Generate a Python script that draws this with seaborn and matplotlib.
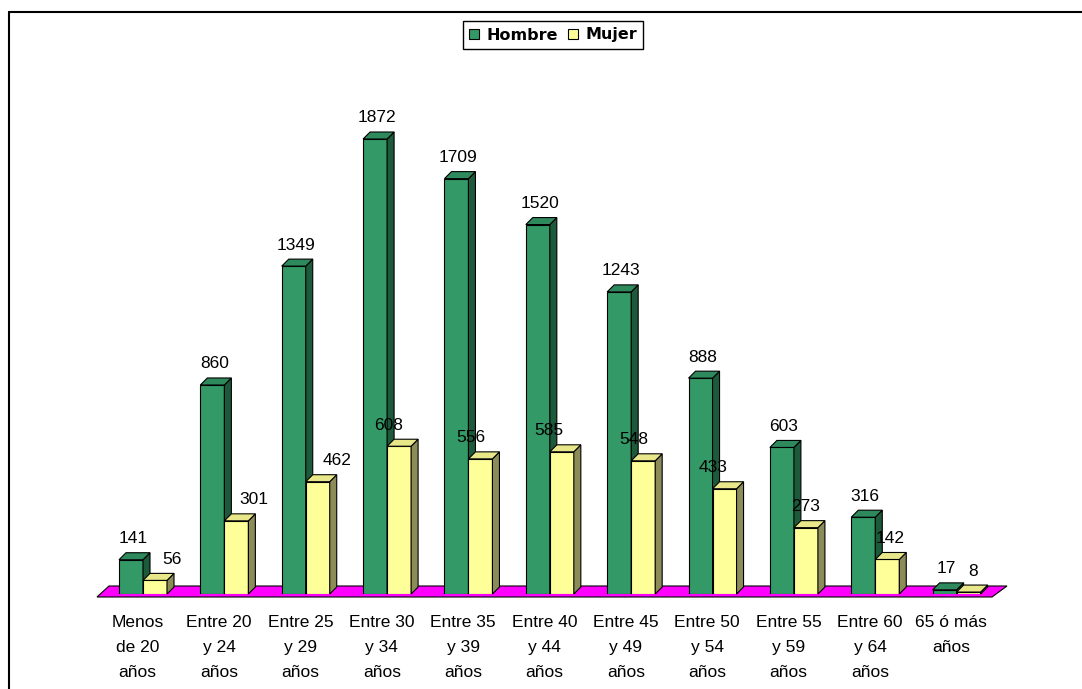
import matplotlib
matplotlib.use("Agg")
import matplotlib.pyplot as plt
import matplotlib.transforms as mtransforms
from matplotlib.patches import Polygon, Patch
from matplotlib.lines import Line2D
import seaborn as sns
import pandas as pd

# ---------------- data ----------------
categories = ["Menos\nde 20\naños", "Entre 20\ny 24\naños", "Entre 25\ny 29\naños",
              "Entre 30\ny 34\naños", "Entre 35\ny 39\naños", "Entre 40\ny 44\naños",
              "Entre 45\ny 49\naños", "Entre 50\ny 54\naños", "Entre 55\ny 59\naños",
              "Entre 60\ny 64\naños", "65 ó más\naños"]
hombre = [141, 860, 1349, 1872, 1709, 1520, 1243, 888, 603, 316, 17]
mujer = [56, 301, 462, 608, 556, 585, 548, 433, 273, 142, 8]
series = ["Hombre", "Mujer"]

# label placement tweaks (pixels) for the value labels
dx_hombre = [2] * 11
dx_mujer = [17, 17, 19, -11, -10, -13, -9, -11, 0, 3, 4]

# ---------------- style ----------------
sns.set_style("white")
plt.rcParams["font.family"] = ["Liberation Sans", "DejaVu Sans"]

front = {"Hombre": "#339966", "Mujer": "#FFFF99"}
side = {"Hombre": "#1D5A3B", "Mujer": "#8C8C58"}
top = {"Hombre": "#2E8A5C", "Mujer": "#E8E88A"}

W, H = 1082, 689
fig = plt.figure(figsize=(W / 100, H / 100), dpi=100)
fig.patch.set_facecolor("white")

ax_left, ax_right, ax_base, ax_top = 97, 992, 594, 12
ax = fig.add_axes([ax_left / W, (H - ax_base) / H, (ax_right - ax_left) / W, (ax_base - ax_top) / H])
ax.set_facecolor("none")

df = pd.DataFrame({
    "cat": categories * 2,
    "sexo": [series[0]] * len(hombre) + [series[1]] * len(mujer),
    "val": hombre + mujer,
})
sns.barplot(data=df, x="cat", y="val", hue="sexo", order=categories, hue_order=series,
            palette=front, saturation=1, width=0.59, dodge=True, ax=ax,
            edgecolor="black", linewidth=0.8, legend=False, errorbar=None)

n = len(categories)
step = (ax_right - ax_left) / n
x0 = (ax_left - 143) / step
ax.set_xlim(x0, x0 + n)
ax.set_ylim(0, (ax_base - ax_top) / (ax_base - 139) * 1872)

for s in ax.spines.values():
    s.set_visible(False)
ax.set_yticks([])
ax.set_ylabel("")
ax.set_xlabel("")

# ticks: marks at category boundaries, labels centred
ax.spines["bottom"].set_position(("outward", 4))
ax.set_xticks([i + x0 + 0.5 for i in range(n)])
ax.set_xticklabels(categories, fontsize=12.5, linespacing=1.83, color="black")
ax.set_xticks([x0 + i for i in range(n + 1)], minor=True)
ax.tick_params(axis="x", which="major", length=0, pad=11, labelcolor="black")
ax.tick_params(axis="x", which="minor", length=7, width=1, color="#333333")

ident = mtransforms.IdentityTransform()
d = 7  # depth in pixels

# floor
fl = ax.transAxes.transform([(0, 0), (1, 0)])
floor = Polygon([(fl[0][0], fl[0][1] - 3), (fl[1][0], fl[1][1] - 3),
                 (fl[1][0] + 15, fl[1][1] + 8), (fl[0][0] + 12, fl[0][1] + 8)],
                closed=True, facecolor="#FF00FF", edgecolor="black", linewidth=0.8,
                transform=ident, zorder=0.5, clip_on=False)
ax.add_patch(floor)

# 3D faces for the bars
for k, cont in enumerate(ax.containers):
    name = series[k]
    base_z = 2 + k
    for bar in cont:
        bar.set_zorder(base_z)
        bx, bw, bh = bar.get_x(), bar.get_width(), bar.get_height()
        (px0, py0), (px1, py1) = ax.transData.transform([(bx, 0), (bx + bw, bh)])
        sp = Polygon([(px1, py0), (px1, py1), (px1 + d, py1 + d), (px1 + d, py0 + d)],
                     closed=True, facecolor=side[name], edgecolor="black", linewidth=0.8,
                     transform=ident, zorder=base_z + 0.1, clip_on=False)
        tp = Polygon([(px0, py1), (px1, py1), (px1 + d, py1 + d), (px0 + d, py1 + d)],
                     closed=True, facecolor=top[name], edgecolor="black", linewidth=0.8,
                     transform=ident, zorder=base_z + 0.2, clip_on=False)
        ax.add_patch(sp)
        ax.add_patch(tp)

# value labels
for k, (cont, vals, dxs) in enumerate(zip(ax.containers, [hombre, mujer], [dx_hombre, dx_mujer])):
    for bar, v, dx in zip(cont, vals, dxs):
        cx = bar.get_x() + bar.get_width() / 2
        ax.annotate(f"{v}", xy=(cx, bar.get_height()), xytext=(dx, 21),
                    textcoords="offset pixels", ha="center", va="center",
                    fontsize=12.5, color="black", zorder=10, annotation_clip=False)

# legend
handles = [Patch(facecolor=front[s], edgecolor="black", linewidth=0.8) for s in series]
leg = fig.legend(handles, series, loc="center", bbox_to_anchor=(553 / W, 1 - 35 / H), ncol=2,
                 frameon=True, fancybox=False, edgecolor="black", framealpha=1,
                 prop={"family": "DejaVu Sans", "weight": "bold", "size": 11.5},
                 handlelength=0.62, handleheight=0.62,
                 handletextpad=0.44, columnspacing=0.67, borderpad=0.4, borderaxespad=0)
leg.get_frame().set_linewidth(1)
for t in leg.get_texts():
    t.set_color("black")

# outer chart frame
fx, fy = 9 / W, 1 - 12 / H
fig.add_artist(Line2D([fx, fx], [0, fy], color="black", linewidth=1.5, transform=fig.transFigure))
fig.add_artist(Line2D([fx, 1], [fy, fy], color="black", linewidth=1.5, transform=fig.transFigure))

fig.savefig("out.png", dpi=100, facecolor="white")
